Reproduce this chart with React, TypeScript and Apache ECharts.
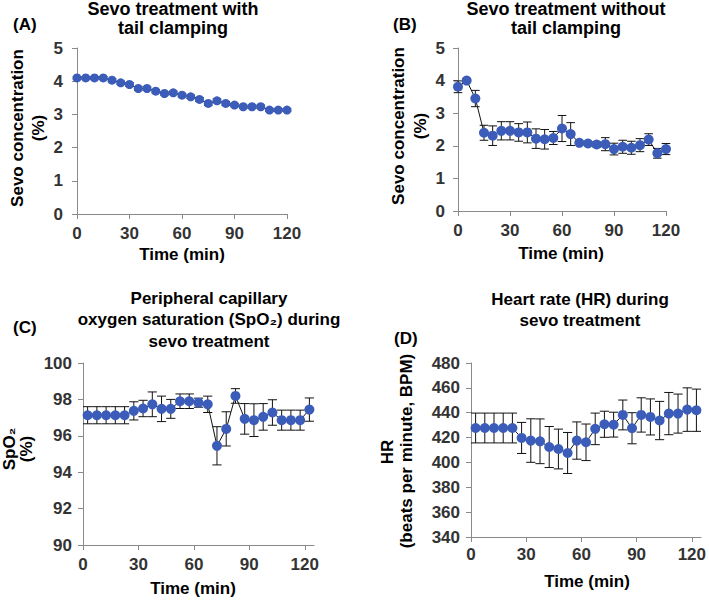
import React, { useEffect, useRef } from "react";
import * as echarts from "echarts";

// ---------- data ----------
const timesAB = [0, 5, 10, 15, 20, 25, 30, 35, 40, 45, 50, 55, 60, 65, 70, 75, 80, 85, 90, 95, 100, 105, 110, 115, 120];
const timesCD = [2.5, 7.5, 12.5, 17.5, 22.5, 27.5, 32.5, 37.5, 42.5, 47.5, 52.5, 57.5, 62.5, 67.5, 72.5, 77.5, 82.5, 87.5, 92.5, 97.5, 102.5, 107.5, 112.5, 117.5, 122.5];

const sevoWithClamp = [4.1, 4.1, 4.1, 4.1, 4.03, 3.95, 3.9, 3.78, 3.78, 3.7, 3.63, 3.65, 3.58, 3.53, 3.45, 3.33, 3.41, 3.33, 3.28, 3.23, 3.23, 3.23, 3.13, 3.13, 3.13];
const sevoWithClampErr = [0.04, 0.04, 0.04, 0.04, 0.05, 0.05, 0.06, 0.06, 0.05, 0.05, 0.05, 0.05, 0.05, 0.05, 0.06, 0.06, 0.06, 0.06, 0.05, 0.05, 0.05, 0.05, 0.04, 0.04, 0.04];

const sevoNoClamp = [3.81, 4.0, 3.45, 2.4, 2.31, 2.46, 2.46, 2.41, 2.41, 2.22, 2.2, 2.24, 2.53, 2.36, 2.09, 2.07, 2.04, 2.05, 1.9, 1.97, 1.94, 2.02, 2.19, 1.77, 1.9];
const sevoNoClampErr = [0.18, 0.05, 0.25, 0.23, 0.3, 0.28, 0.28, 0.27, 0.32, 0.3, 0.3, 0.2, 0.4, 0.35, 0.05, 0.05, 0.08, 0.2, 0.18, 0.2, 0.2, 0.2, 0.18, 0.15, 0.17];

const spo2 = [97.13, 97.13, 97.13, 97.13, 97.13, 97.37, 97.5, 97.73, 97.48, 97.48, 97.9, 97.9, 97.82, 97.73, 95.45, 96.38, 98.19, 96.93, 96.86, 97.04, 97.28, 96.86, 96.86, 96.86, 97.44];
const spo2Err = [0.47, 0.47, 0.47, 0.47, 0.47, 0.5, 0.45, 0.68, 0.7, 0.52, 0.4, 0.4, 0.25, 0.45, 1.05, 0.94, 0.4, 0.84, 0.9, 0.73, 0.7, 0.55, 0.55, 0.55, 0.64];

const heartRate = [427.7, 427.7, 427.7, 427.7, 427.7, 419.7, 417.6, 417, 412.4, 410.8, 407.6, 417.6, 416.2, 427, 430.7, 430.4, 438.2, 427.5, 438.2, 436.6, 433.7, 439.3, 439.3, 442.5, 442];
const heartRateErr = [12, 12, 12, 12, 12, 12.5, 17.5, 18, 16.5, 16, 16.5, 15, 14.7, 12.7, 10.5, 10, 12, 12.5, 13.8, 14.5, 15.4, 17, 15.7, 17.5, 17];

const xTicks = [0, 30, 60, 90, 120];

// ---------- styles ----------
const FAMILY = "'Liberation Sans', Arial, Helvetica, sans-serif";
const DOT = "#3b5cb8";
const AXIS = "#8a8a8a";
const LABEL = "#333333";

function txt(text: string, x: number, y: number, opts: any = {}) {
  return {
    type: "text",
    x,
    y,
    rotation: opts.rotate ? Math.PI / 2 : 0,
    style: {
      text,
      fill: "#000",
      fontSize: opts.size || 17,
      fontWeight: "bold",
      fontFamily: FAMILY,
      align: opts.align || "center",
      verticalAlign: "middle",
    },
  };
}

function xAxisDef(grid: number, max: number, margin: number) {
  return {
    type: "value",
    gridIndex: grid,
    min: 0,
    max,
    interval: 30,
    axisLine: { show: true, onZero: false, lineStyle: { color: AXIS, width: 1 } },
    axisTick: { show: true, length: 5, lineStyle: { color: AXIS }, customValues: xTicks },
    axisLabel: {
      color: LABEL,
      fontSize: 17,
      fontWeight: "bold",
      fontFamily: FAMILY,
      margin,
      customValues: xTicks,
      showMinLabel: true,
      showMaxLabel: true,
    },
    splitLine: { show: false },
  };
}

function yAxisDef(grid: number, min: number, max: number, interval: number, margin: number) {
  return {
    type: "value",
    gridIndex: grid,
    min,
    max,
    interval,
    axisLine: { show: true, onZero: false, lineStyle: { color: AXIS, width: 1 } },
    axisTick: { show: true, length: 5, lineStyle: { color: AXIS } },
    axisLabel: {
      color: LABEL,
      fontSize: 17,
      fontWeight: "bold",
      fontFamily: FAMILY,
      margin,
    },
    splitLine: { show: false },
  };
}

function lineSeries(idx: number, xs: number[], ys: number[], size: number) {
  return {
    type: "line",
    xAxisIndex: idx,
    yAxisIndex: idx,
    data: xs.map((x, i) => [x, ys[i]]),
    symbol: "circle",
    symbolSize: size,
    showSymbol: true,
    lineStyle: { color: "#111", width: 1 },
    itemStyle: { color: DOT },
    z: 3,
    silent: true,
  };
}

function errSeries(idx: number, xs: number[], ys: number[], errs: number[], hw: number) {
  return {
    type: "custom",
    xAxisIndex: idx,
    yAxisIndex: idx,
    data: xs.map((x, i) => [x, ys[i], errs[i]]),
    encode: { x: 0, y: 1 },
    z: 2,
    silent: true,
    renderItem: (params: any, api: any) => {
      const x = api.value(0);
      const y = api.value(1);
      const e = api.value(2);
      const top = api.coord([x, y + e]);
      const bot = api.coord([x, y - e]);
      const st = { stroke: "#111", lineWidth: 1 };
      return {
        type: "group",
        children: [
          { type: "line", shape: { x1: top[0], y1: top[1], x2: bot[0], y2: bot[1] }, style: st },
          { type: "line", shape: { x1: top[0] - hw, y1: top[1], x2: top[0] + hw, y2: top[1] }, style: st },
          { type: "line", shape: { x1: bot[0] - hw, y1: bot[1], x2: bot[0] + hw, y2: bot[1] }, style: st },
        ],
      };
    },
  };
}

export default function App() {
  const ref = useRef<HTMLDivElement>(null);

  useEffect(() => {
    document.body.style.margin = "0";
    if (!ref.current) return;
    const chart = echarts.init(ref.current, null, { renderer: "svg" });

    const option: any = {
      animation: false,
      backgroundColor: "#ffffff",
      grid: [
        { left: 77, top: 48, width: 210, height: 166 },
        { left: 458, top: 48, width: 208, height: 163 },
        { left: 83, top: 363, width: 231, height: 182 },
        { left: 471, top: 363, width: 234, height: 174 },
      ],
      xAxis: [
        xAxisDef(0, 120, 11),
        xAxisDef(1, 120, 11),
        xAxisDef(2, 125, 11),
        xAxisDef(3, 125, 9),
      ],
      yAxis: [
        yAxisDef(0, 0, 5, 1, 14),
        yAxisDef(1, 0, 5, 1, 13),
        yAxisDef(2, 90, 100, 2, 11),
        yAxisDef(3, 340, 480, 20, 11),
      ],
      series: [
        errSeries(0, timesAB, sevoWithClamp, sevoWithClampErr, 4.2),
        lineSeries(0, timesAB, sevoWithClamp, 9),
        errSeries(1, timesAB, sevoNoClamp, sevoNoClampErr, 4.3),
        lineSeries(1, timesAB, sevoNoClamp, 10),
        errSeries(2, timesCD, spo2, spo2Err, 4.6),
        lineSeries(2, timesCD, spo2, 10),
        errSeries(3, timesCD, heartRate, heartRateErr, 4.6),
        lineSeries(3, timesCD, heartRate, 10),
      ],
      graphic: [
        // panel A
        txt("(A)", 13, 24, { align: "left" }),
        txt("Sevo treatment with", 173, 9, { size: 18 }),
        txt("tail clamping", 173, 28, { size: 18 }),
        txt("Sevo concentration", 17, 128, { rotate: true }),
        txt("(%)", 38, 128, { rotate: true }),
        txt("Time (min)", 182, 254),
        // panel B
        txt("(B)", 393, 24, { align: "left" }),
        txt("Sevo treatment without", 566, 9, { size: 18 }),
        txt("tail clamping", 566, 28, { size: 18 }),
        txt("Sevo concentration", 398, 126, { rotate: true }),
        txt("(%)", 420, 126, { rotate: true }),
        txt("Time (min)", 561, 253),
        // panel C
        txt("(C)", 13, 327, { align: "left" }),
        txt("Peripheral capillary", 209, 298),
        txt("oxygen saturation (SpO₂) during", 209, 319),
        txt("sevo treatment", 209, 341),
        txt("SpO₂", 9, 449, { rotate: true }),
        txt("(%)", 26, 449, { rotate: true }),
        txt("Time (min)", 193, 588),
        // panel D
        txt("(D)", 394, 338, { align: "left" }),
        txt("Heart rate (HR) during", 580, 299),
        txt("sevo treatment", 580, 320),
        txt("HR", 387, 452, { rotate: true }),
        txt("(beats per minute, BPM)", 406, 451, { rotate: true }),
        txt("Time (min)", 587, 581),
      ],
    };

    chart.setOption(option);
    return () => {
      chart.dispose();
    };
  }, []);

  return <div ref={ref} style={{ width: 709, height: 600 }} />;
}
